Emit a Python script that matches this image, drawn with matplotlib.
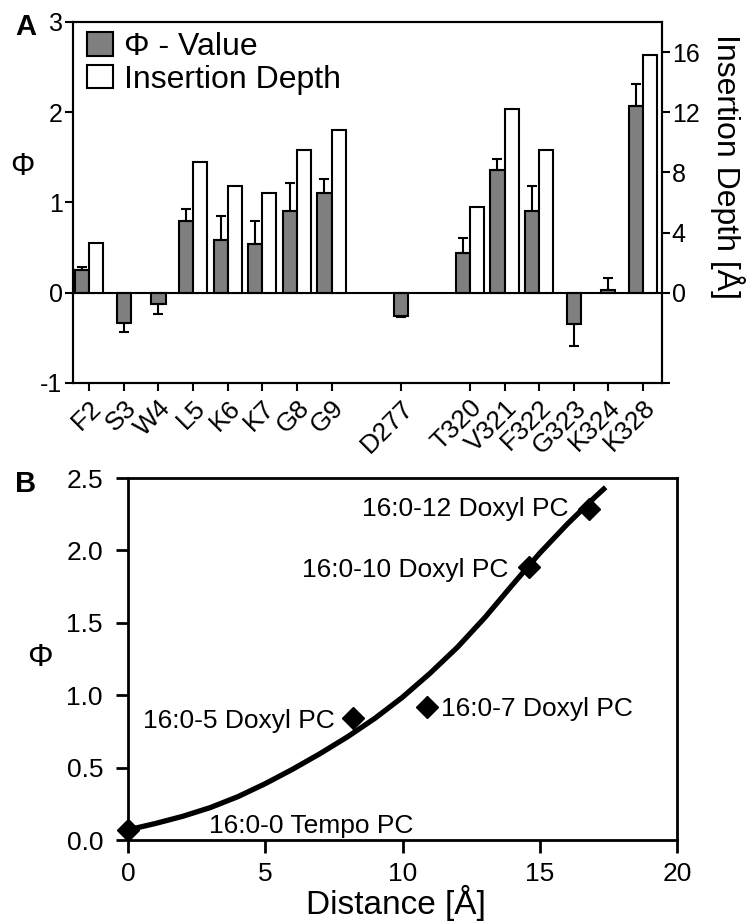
import numpy as np
import matplotlib
matplotlib.use('Agg')
import matplotlib.pyplot as plt
from matplotlib.patches import Patch

plt.rcParams['font.family'] = ['Liberation Sans', 'DejaVu Sans']

# ---------------- Panel A data ----------------
residues = ['F2', 'S3', 'W4', 'L5', 'K6', 'K7', 'G8', 'G9', 'D277',
            'T320', 'V321', 'F322', 'G323', 'K324', 'K328']
slots = [0, 1, 2, 3, 4, 5, 6, 7, 9, 11, 12, 13, 14, 15, 16]
phi_values = [0.25, -0.33, -0.12, 0.79, 0.59, 0.535, 0.905, 1.10, -0.26,
              0.44, 1.355, 0.91, -0.35, 0.025, 2.065]
phi_errors = [0.04, 0.10, 0.12, 0.14, 0.26, 0.265, 0.31, 0.16, 0.01,
              0.17, 0.125, 0.275, 0.24, 0.14, 0.245]
insertion_depth = [3.29, np.nan, np.nan, 8.68, 7.09, 6.6, 9.47, 10.8, np.nan,
                   5.68, 12.2, 9.47, np.nan, np.nan, 15.83]

# ---------------- Panel B data ----------------
lipids = ['16:0-0 Tempo PC', '16:0-5 Doxyl PC', '16:0-7 Doxyl PC',
          '16:0-10 Doxyl PC', '16:0-12 Doxyl PC']
distance = [0.0, 8.2, 10.9, 14.6, 16.8]
phi_lipid = [0.07, 0.84, 0.92, 1.885, 2.285]
fit_x = [0, 1, 2, 3, 4, 5, 6, 7, 8, 9, 10, 11, 12, 13, 14, 15, 16, 17, 17.4]
fit_y = [0.07, 0.114, 0.164, 0.224, 0.299, 0.389, 0.489, 0.597, 0.713, 0.841,
         0.986, 1.151, 1.331, 1.536, 1.761, 1.981, 2.181, 2.366, 2.436]

GRAY = '#7f7f7f'
LW = 1.5

fig = plt.figure(figsize=(7.47, 9.23), dpi=100)

# ================= Panel A =================
axA = fig.add_axes([73/747, 1-383/923, (662-73)/747, (383-22)/923])
axR = axA.twinx()

w = 0.41
phi = np.array(phi_values)
err = np.array(phi_errors)
depth = np.array(insertion_depth)
pos = np.array(slots, dtype=float)
has_depth = ~np.isnan(depth)
xg = np.where(has_depth, pos - w/2, pos)

axA.bar(xg, phi, width=w, color=GRAY, edgecolor='k', linewidth=LW, zorder=2)
lo = np.where(phi < 0, err, 0)
hi = np.where(phi >= 0, err, 0)
axA.errorbar(xg, phi, yerr=[lo, hi], fmt='none', ecolor='k', elinewidth=LW,
             capsize=3.6, capthick=LW, zorder=3)
axA.axhline(0, color='k', lw=LW, zorder=4)
axR.bar(pos[has_depth] + w/2, depth[has_depth], width=w, color='white',
        edgecolor='k', linewidth=LW, zorder=2)

axA.set_xlim(-0.47, 16.55)
axA.set_ylim(-1, 3)
axR.set_ylim(-6, 18)
axA.set_yticks([-1, 0, 1, 2, 3])
axA.set_yticklabels(['-1', '0', '1', '2', '3'])
axR.set_yticks([-6, 0, 4, 8, 12, 16])
axR.set_yticklabels(['', '0', '4', '8', '12', '16'])
axA.set_xticks(slots)
axA.set_xticklabels(residues, rotation=45, ha='right', va='top',
                    rotation_mode='anchor')

for ax in (axA, axR):
    for s in ax.spines.values():
        s.set_linewidth(LW)
axA.tick_params(axis='both', direction='out', length=6, width=LW,
                labelsize=18, pad=1.5)
axA.tick_params(axis='x', pad=3, labelsize=19)
axR.tick_params(axis='y', direction='out', length=6, width=LW,
                labelsize=18, pad=1)

fig.text(22/747, 1-167/923, 'Φ', fontsize=22, ha='center', va='center')
fig.text(728/747, 1-166/923, 'Insertion Depth [Å]', fontsize=23,
         rotation=270, ha='center', va='center')

handles = [Patch(facecolor=GRAY, edgecolor='k', linewidth=LW),
           Patch(facecolor='white', edgecolor='k', linewidth=LW)]
axR.legend(handles, ['Φ - Value', 'Insertion Depth'], loc='upper left',
           bbox_to_anchor=(0.024, 0.972), frameon=False, fontsize=23,
           handlelength=0.8, handleheight=0.75, handletextpad=0.35,
           labelspacing=0.08, borderpad=0, borderaxespad=0)

fig.text(15/747, 1-35/923, 'A', fontsize=21, fontweight='bold',
         ha='left', va='baseline')

# ================= Panel B =================
axB = fig.add_axes([128/747, 1-840/923, (677-128)/747, (840-478)/923])
axB.plot(fit_x, fit_y, color='k', lw=3.8, solid_capstyle='butt',
         solid_joinstyle='round', zorder=2)
axB.plot(distance, phi_lipid, 'D', color='k', ms=11, clip_on=False, zorder=3)

offsets = [(58, -2, 'left', 'baseline'), (-13, 0, 'right', 'center_baseline'),
           (10, 0, 'left', 'center_baseline'),
           (-15, 0, 'right', 'center_baseline'),
           (-15, 2, 'right', 'center_baseline')]
for name, x, y, (dx, dy, ha, va) in zip(lipids, distance, phi_lipid, offsets):
    axB.annotate(name, (x, y), xytext=(dx, dy), textcoords='offset points',
                 ha=ha, va=va, fontsize=19)

axB.set_xlim(0, 20)
axB.set_ylim(0, 2.5)
axB.set_xticks([0, 5, 10, 15, 20])
axB.set_yticks([0, 0.5, 1.0, 1.5, 2.0, 2.5])
axB.set_yticklabels(['0.0', '0.5', '1.0', '1.5', '2.0', '2.5'])
for s in axB.spines.values():
    s.set_linewidth(2)
axB.tick_params(axis='both', direction='out', length=9, width=2, labelsize=19)
axB.tick_params(axis='x', pad=7)
axB.tick_params(axis='y', pad=9)

fig.text(396/747, 1-914/923, 'Distance [Å]', fontsize=24,
         ha='center', va='baseline')
fig.text(40/747, 1-658/923, 'Φ', fontsize=23, ha='center', va='center')
fig.text(15/747, 1-492/923, 'B', fontsize=21, fontweight='bold',
         ha='left', va='baseline')

fig.savefig('out.png', dpi=100)
